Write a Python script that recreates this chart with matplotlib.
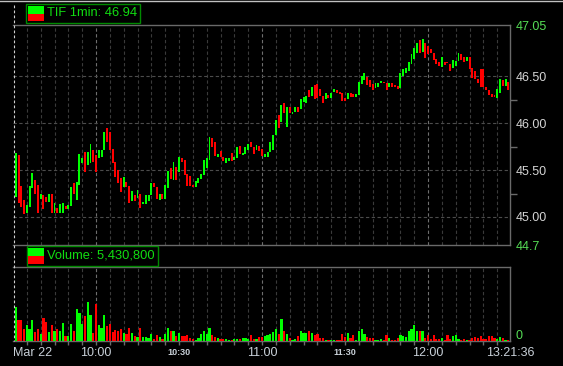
import numpy as np
import matplotlib.pyplot as plt
from matplotlib.patches import Rectangle
from matplotlib.lines import Line2D
from matplotlib.transforms import blended_transform_factory

plt.rcParams['font.family'] = ['Liberation Sans', 'DejaVu Sans']

# TIF 1-minute bars, bar k ends k minutes after 9:30
opens = [45.21, 45.66, 45.33, 45.18, 45.04, 45.11, 45.31, 45.39, 45.34, 45.19,
         45.23, 45.21, 45.16, 45.25, 45.04, 45.09, 45.04, 45.04, 45.12, 45.08,
         45.12, 45.36, 45.18, 45.34, 45.58, 45.69, 45.55, 45.58, 45.71, 45.66,
         45.63, 45.64, 45.71, 45.95, 45.91, 45.73, 45.59, 45.50, 45.42, 45.32,
         45.37, 45.33, 45.17, 45.23, 45.20, 45.25, 45.14, 45.14, 45.17, 45.23,
         45.36, 45.32, 45.18, 45.24, 45.19, 45.31, 45.52, 45.39, 45.53, 45.48,
         45.63, 45.61, 45.46, 45.44, 45.34, 45.32, 45.36, 45.40, 45.45, 45.52,
         45.61, 45.84, 45.80, 45.64, 45.70, 45.64, 45.58, 45.60, 45.68, 45.61,
         45.63, 45.76, 45.66, 45.67, 45.71, 45.80, 45.75, 45.71, 45.76, 45.73,
         45.64, 45.64, 45.69, 45.72, 45.87, 46.09, 46.01, 46.22, 45.96, 46.17,
         46.10, 46.12, 46.17, 46.15, 46.23, 46.22, 46.36, 46.29, 46.41, 46.42,
         46.37, 46.29, 46.26, 46.30, 46.27, 46.33, 46.36, 46.33, 46.32, 46.27,
         46.26, 46.32, 46.31, 46.28, 46.30, 46.42, 46.46, 46.49, 46.46, 46.42,
         46.38, 46.39, 46.43, 46.44, 46.43, 46.39, 46.43, 46.40, 46.40, 46.38,
         46.51, 46.54, 46.56, 46.63, 46.69, 46.75, 46.89, 46.76, 46.86, 46.83,
         46.79, 46.75, 46.69, 46.66, 46.60, 46.65, 46.66, 46.63, 46.59, 46.61,
         46.67, 46.74, 46.71, 46.67, 46.71, 46.59, 46.56, 46.47, 46.58, 46.58,
         46.39, 46.36, 46.31, 46.30, 46.27, 46.32, 46.46, 46.40, 46.44]
closes = [45.68, 45.15, 45.11, 45.03, 45.13, 45.33, 45.47, 45.25, 45.04, 45.25,
          45.08, 45.16, 45.25, 45.04, 45.15, 45.04, 45.14, 45.15, 45.08, 45.13,
          45.32, 45.25, 45.37, 45.67, 45.63, 45.48, 45.69, 45.78, 45.59, 45.48,
          45.71, 45.71, 45.91, 45.80, 45.71, 45.58, 45.43, 45.36, 45.27, 45.43,
          45.32, 45.15, 45.28, 45.17, 45.29, 45.10, 45.16, 45.23, 45.23, 45.36,
          45.32, 45.19, 45.24, 45.19, 45.34, 45.49, 45.40, 45.59, 45.39, 45.64,
          45.59, 45.45, 45.33, 45.33, 45.32, 45.38, 45.42, 45.46, 45.61, 45.63,
          45.85, 45.75, 45.65, 45.67, 45.64, 45.60, 45.63, 45.63, 45.60, 45.64,
          45.75, 45.67, 45.68, 45.75, 45.78, 45.75, 45.67, 45.77, 45.70, 45.65,
          45.67, 45.69, 45.80, 45.88, 46.04, 45.95, 46.20, 46.11, 46.17, 46.11,
          46.12, 46.17, 46.12, 46.26, 46.28, 46.29, 46.28, 46.39, 46.26, 46.27,
          46.29, 46.22, 46.32, 46.27, 46.32, 46.37, 46.32, 46.31, 46.24, 46.24,
          46.32, 46.28, 46.28, 46.31, 46.44, 46.50, 46.54, 46.41, 46.39, 46.36,
          46.43, 46.43, 46.45, 46.43, 46.36, 46.43, 46.39, 46.39, 46.37, 46.54,
          46.58, 46.59, 46.65, 46.74, 46.80, 46.86, 46.75, 46.90, 46.70, 46.74,
          46.75, 46.68, 46.63, 46.61, 46.71, 46.62, 46.64, 46.56, 46.68, 46.67,
          46.75, 46.68, 46.66, 46.71, 46.58, 46.48, 46.47, 46.43, 46.39, 46.39,
          46.36, 46.30, 46.28, 46.28, 46.37, 46.47, 46.40, 46.47, 46.36]
# volume per bar, thousands of shares
volume_k = [137, 84, 84, 47, 64, 48, 84, 37, 48, 28, 92, 76, 37, 64, 41, 48, 41, 72, 21, 21,
            69, 41, 128, 112, 69, 100, 157, 104, 33, 149, 64, 53, 104, 60, 69, 37, 44, 41, 48, 33,
            28, 53, 33, 21, 16, 53, 16, 16, 11, 28, 8, 24, 16, 8, 28, 53, 41, 41, 21, 33,
            21, 21, 24, 11, 8, 4, 12, 29, 41, 27, 53,
            23, 16, 13, 9, 8, 7, 5, 5, 8, 9, 8, 12, 12, 8, 23, 8, 8, 16, 16, 19, 23, 29, 36, 49, 29,
            87, 40, 27, 13, 5, 8, 19, 39, 31, 31, 39, 31, 24, 27, 12, 13, 4, 5, 3, 5,
            4, 3, 27, 16, 31, 12, 23, 5, 40, 47, 29, 16, 12, 12, 5, 5, 8, 5, 24, 12,
            5, 5, 12, 23, 19, 16, 40, 49, 63, 39, 39, 39, 12, 23, 8, 25, 8, 8, 12, 5,
            25, 8, 19, 25, 8, 5, 8, 5, 5, 12, 16, 12, 19, 8, 8, 19, 19, 12, 7, 16,
            12, 5, 5]

price_labels = [44.7, 45.00, 45.50, 46.00, 46.50, 47.05]
price_grid = [45.00, 45.50, 46.00, 46.50]
price_minor = [45.25, 45.75, 46.25]
time_labels = [(0, 'Mar 22'), (30, '10:00'), (60, '10:30'), (90, '11:00'),
               (120, '11:30'), (150, '12:00'), (179.6, '13:21:36')]
last_price = '46.94'
total_volume = '5,430,800'

GREEN = '#00ff00'
RED = '#ff0000'
W, H = 563, 366

def px_box(x0, y0, x1, y1):
    return [x0 / W, 1 - y1 / H, (x1 - x0) / W, (y1 - y0) / H]

fig = plt.figure(figsize=(W / 100, H / 100), dpi=100, facecolor='black')
ax = fig.add_axes(px_box(13, 25, 510, 245), facecolor='black')
axv = fig.add_axes(px_box(13, 267, 510, 341), facecolor='black', sharex=ax)

o = np.array(opens)
c = np.array(closes)
mins = np.arange(1, len(o) + 1)
cols = [GREEN if cc >= oo else RED for oo, cc in zip(o, c)]

# candle bodies
ax.bar(mins, np.maximum(np.abs(c - o), 0.015), bottom=np.minimum(o, c),
       width=0.7, color=cols, linewidth=0, zorder=3)
axv.bar(mins, volume_k, width=0.8, color=cols, linewidth=0, zorder=3)

ax.set_xlim(0, 179.6)
ax.set_ylim(44.7, 47.05)
axv.set_ylim(0, 296)

# grid
for m in range(5, 180, 5):
    gc = '#6e6e6e' if m % 60 == 30 else '#3a3a3a'
    for a in (ax, axv):
        a.axvline(m, color=gc, lw=0.8, dashes=(3, 2.2), zorder=1)
for p in price_grid:
    ax.axhline(p, color='#4c4c4c', lw=0.8, dashes=(3, 2.2), zorder=1)

for a in (ax, axv):
    for s in ('top', 'bottom', 'right'):
        a.spines[s].set_color('#6a6a6a')
        a.spines[s].set_linewidth(1.0)
    a.spines['left'].set_visible(False)

# price axis on right
ax.yaxis.tick_right()
ax.set_yticks(price_labels)
ax.set_yticklabels(['44.7' if p == 44.7 else f'{p:.2f}' for p in price_labels])
ax.set_yticks(price_minor, minor=True)
ax.tick_params(axis='y', which='major', length=0, pad=4, labelsize=9, labelcolor='#d4d4d4')
ax.tick_params(axis='y', which='minor', length=5, width=1, color='#6a6a6a')
for lab in ax.get_yticklabels():
    if lab.get_text() in ('44.7', '47.05'):
        lab.set_color('#55dd55')
ax.tick_params(axis='x', which='both', bottom=False, labelbottom=False)

axv.set_yticks([])
axv.set_xticks(range(5, 180, 5))
axv.tick_params(axis='x', length=3, width=1, color='#6a6a6a', labelbottom=False)
axv.text(1 + 6 / 497, 2 / 74, '0', transform=axv.transAxes, ha='left', va='baseline',
         fontsize=9, color='#55dd55')

tr = blended_transform_factory(axv.transData, axv.transAxes)
for m, t in time_labels:
    small = t in ('10:30', '11:30')
    ha = 'left' if m == 0 else 'center'
    axv.text(m, -0.16, t, transform=tr, ha=ha, va='center', clip_on=False,
             fontsize=6.5 if small else 9, fontweight='bold' if small else 'normal',
             color='#c8d0d8')

# session-open line and top edge
fig.add_artist(Line2D([13.5 / W] * 2, [1 - 5 / H, 1 - 341 / H], transform=fig.transFigure,
                      color='#d0d0d0', lw=0.8, dashes=(2.5, 2)))
fig.add_artist(Line2D([0, 1], [1 - 0.5 / H] * 2, transform=fig.transFigure,
                      color='#c0c0c0', lw=1))

# legend boxes
def legend_box(x0, y0, x1, y1, text):
    fig.add_artist(Rectangle((x0 / W, 1 - y1 / H), (x1 - x0) / W, (y1 - y0) / H,
                             transform=fig.transFigure, fill=False, edgecolor='#008a00', lw=1))
    ym = (y0 + y1) / 2
    fig.add_artist(Rectangle((28 / W, 1 - ym / H), 16 / W, (ym - y0 - 2) / H,
                             transform=fig.transFigure, color=GREEN, lw=0))
    fig.add_artist(Rectangle((28 / W, 1 - (y1 - 2) / H), 16 / W, (y1 - 2 - ym) / H,
                             transform=fig.transFigure, color=RED, lw=0))
    fig.text(47 / W, 1 - ym / H, text, ha='left', va='center', fontsize=9.3, color='#11dd11')

legend_box(26, 4, 140, 23, f'TIF 1min: {last_price}')
legend_box(27, 246, 158, 266, f'Volume: {total_volume}')

fig.savefig('out.png', dpi=100, facecolor='black')
